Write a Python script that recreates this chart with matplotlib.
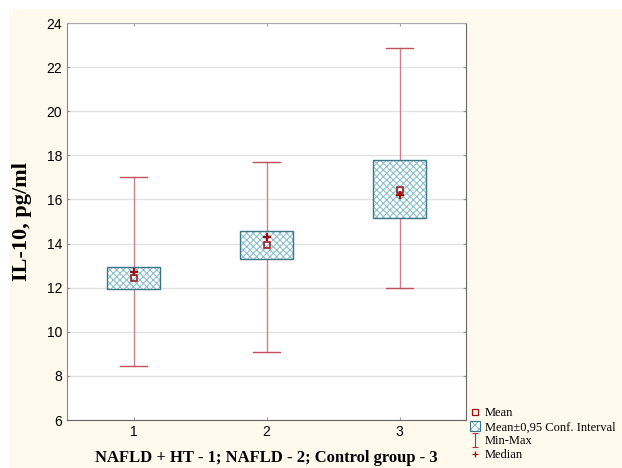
import numpy as np
import matplotlib.pyplot as plt
from matplotlib.patches import Rectangle, Patch
from matplotlib.lines import Line2D
from matplotlib.path import Path

groups = [1, 2, 3]
means = [12.45, 13.93, 16.45]
medians = [12.7, 14.3, 16.2]
ci_low = [11.95, 13.3, 15.15]
ci_high = [12.92, 14.57, 17.78]
mins = [8.45, 9.08, 11.98]
maxs = [17.02, 17.72, 22.85]

plt.rcParams['hatch.linewidth'] = 0.7
hatch_col = '#80bccb'
edge_col = '#3d7585'

fig = plt.figure(figsize=(6.22, 4.68), dpi=100)
fig.patches.append(Rectangle((9 / 622, 0), 1, 1 - 9 / 468, transform=fig.transFigure,
                             facecolor='#fff9ee', edgecolor='none', zorder=-10))
ax = fig.add_axes([67 / 622, 48 / 468, 399 / 622, 397 / 468])
ax.set_facecolor('white')

for g, lo, hi, mn, mx, me, md in zip(groups, ci_low, ci_high, mins, maxs, means, medians):
    ax.plot([g, g], [mn, lo], color='#cc8088', lw=1, zorder=2)
    ax.plot([g, g], [hi, mx], color='#cc8088', lw=1, zorder=2)
    ax.plot([g - 0.1, g + 0.1], [mn, mn], color='#c0505a', lw=1, zorder=2)
    ax.plot([g - 0.1, g + 0.1], [mx, mx], color='#c0505a', lw=1, zorder=2)
    ax.add_patch(Rectangle((g - 0.2, lo), 0.4, hi - lo, facecolor='white',
                           edgecolor=hatch_col, hatch='xxxxx', lw=0, zorder=3))
    ax.add_patch(Rectangle((g - 0.2, lo), 0.4, hi - lo, facecolor='none',
                           edgecolor=edge_col, lw=1, zorder=3.5))
    ax.plot(g, me, marker='s', ms=5, mfc='none', mec='#9b1010', mew=1.1, zorder=4)
    ax.plot(g, md, marker='+', ms=6, color='#9b1010', mew=1.6, zorder=4)

ax.set_xlim(0.5, 3.5)
ax.set_ylim(6, 24)
ax.set_xticks(groups)
ax.set_yticks(np.arange(6, 25, 2))
ax.yaxis.grid(True, color='#e2e2e2', lw=1)
ax.set_axisbelow(True)
ax.tick_params(direction='in', length=2, top=True, right=True, labelsize=10, color='#999999')
for lab in ax.get_xticklabels() + ax.get_yticklabels():
    lab.set_family('Liberation Sans')
for s in ax.spines.values():
    s.set_color('#666666')
ax.spines['top'].set_color('#aaaaaa')
ax.spines['left'].set_color('#888888')

ax.set_xlabel('NAFLD + HT - 1; NAFLD - 2; Control group - 3', family='Liberation Serif',
              fontweight='bold', fontsize=12, labelpad=8)
ax.set_ylabel('IL-10, pg/ml', family='Liberation Serif', fontweight='bold', fontsize=16, labelpad=10)

ibeam = Path([(-0.5, 1), (0.5, 1), (0, 1), (0, -1), (-0.5, -1), (0.5, -1)],
             [Path.MOVETO, Path.LINETO, Path.MOVETO, Path.LINETO, Path.MOVETO, Path.LINETO])
handles = [
    Line2D([], [], ls='none', marker='s', ms=5, mfc='none', mec='#9b1010', mew=0.9),
    (Patch(facecolor='white', edgecolor=hatch_col, hatch='xxxx', lw=0),
     Patch(facecolor='none', edgecolor=edge_col, lw=0.8)),
    Line2D([], [], ls='none', marker=ibeam, ms=10, mec='#b03040', mew=0.8),
    Line2D([], [], ls='none', marker='+', ms=5, color='#9b1010', mew=0.9),
]
labels = ['Mean', 'Mean±0,95 Conf. Interval', 'Min-Max', 'Median']
fig.legend(handles, labels, loc='lower left', bbox_to_anchor=(467 / 622, 4 / 468),
           frameon=False, prop={'family': 'Liberation Serif', 'size': 9},
           handlelength=0.8, handleheight=0.8, handletextpad=0.4, labelspacing=0.15,
           borderpad=0.2, borderaxespad=0)

fig.savefig('out.png', dpi=100, facecolor='white')
